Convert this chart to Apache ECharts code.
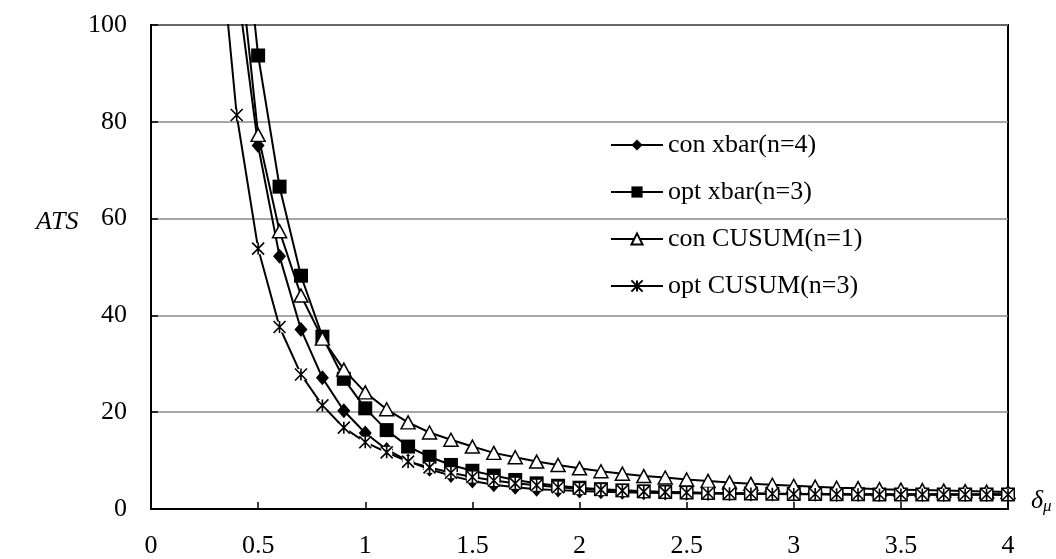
<!DOCTYPE html>
<html>
<head>
<meta charset="utf-8">
<script src="https://cdn.jsdelivr.net/npm/echarts@6/dist/echarts.min.js"></script>
<style>
  html, body { margin: 0; padding: 0; background: #fff; }
  #chart { width: 1056px; height: 559px; }
</style>
</head>
<body>
<div id="chart"></div>
<script>
// Mean shift (delta_mu) values along the horizontal axis
const delta = [0.3, 0.4, 0.5, 0.6, 0.7, 0.8, 0.9, 1.0, 1.1, 1.2, 1.3, 1.4, 1.5, 1.6, 1.7, 1.8, 1.9, 2.0,
               2.1, 2.2, 2.3, 2.4, 2.5, 2.6, 2.7, 2.8, 2.9, 3.0, 3.1, 3.2, 3.3, 3.4, 3.5, 3.6, 3.7, 3.8, 3.9, 4.0];

// ATS for each chart (null where the curve is above the plotted range)
const conXbar4 = [null, 109, 75.1, 52.2, 37.1, 27.1, 20.3, 15.7, 12.3, 9.9, 8.2, 6.9, 5.8, 5.0, 4.5, 4.1, 3.9, 3.7,
                  3.55, 3.45, 3.35, 3.3, 3.25, 3.2, 3.15, 3.1, 3.1, 3.05, 3.05, 3.0, 3.0, 3.0, 3.0, 3.0, 3.0, 3.0, 3.0, 3.0];
const optXbar3 = [null, 135.7, 93.7, 66.6, 48.2, 35.6, 26.9, 20.8, 16.3, 12.9, 10.8, 9.1, 7.9, 6.9, 6.0, 5.3, 4.8, 4.4,
                  4.1, 3.85, 3.65, 3.5, 3.4, 3.3, 3.25, 3.2, 3.15, 3.1, 3.1, 3.05, 3.05, 3.0, 3.0, 3.0, 3.0, 3.0, 3.0, 3.0];
const conCusum1 = [null, 119, 77.3, 57.4, 44.1, 35.2, 28.8, 24.1, 20.6, 17.9, 15.8, 14.3, 12.9, 11.6, 10.7, 9.8, 9.1, 8.4,
                   7.8, 7.3, 6.8, 6.5, 6.1, 5.8, 5.5, 5.2, 5.0, 4.8, 4.6, 4.4, 4.3, 4.1, 4.0, 3.9, 3.8, 3.7, 3.6, 3.5];
const optCusum3 = [128, 81.4, 53.8, 37.6, 27.8, 21.4, 16.8, 13.8, 11.7, 9.8, 8.6, 7.5, 6.6, 5.9, 5.3, 4.9, 4.5, 4.2,
                   4.0, 3.8, 3.6, 3.5, 3.4, 3.3, 3.25, 3.2, 3.15, 3.1, 3.1, 3.05, 3.05, 3.0, 3.0, 3.0, 3.0, 3.0, 3.0, 3.0];

const seriesNames = ['con xbar(n=4)', 'opt xbar(n=3)', 'con CUSUM(n=1)', 'opt CUSUM(n=3)'];
const xTicks = [0, 0.5, 1, 1.5, 2, 2.5, 3, 3.5, 4];
const yTicks = [0, 20, 40, 60, 80, 100];

const pairs = (ys) => delta.map((x, i) => [x, ys[i]]);
const FONT = '"Liberation Serif", "Times New Roman", serif';
const ASTERISK = 'path://M0,0L10,10M10,0L0,10M5,0L5,10';

const baseLine = (name, ys, extra) => Object.assign({
  name: name,
  type: 'line',
  data: pairs(ys),
  showAllSymbol: true,
  connectNulls: false,
  clip: true,
  lineStyle: { color: '#000', width: 2 },
  emphasis: { disabled: true },
  z: 3
}, extra);

const chart = echarts.init(document.getElementById('chart'), null, { renderer: 'canvas' });
chart.setOption({
  animation: false,
  backgroundColor: '#fff',
  textStyle: { fontFamily: FONT, color: '#000' },
  grid: {
    left: 151, right: 48, top: 25, bottom: 45,
    show: true, borderColor: '#000', borderWidth: 2, backgroundColor: 'transparent'
  },
  legend: {
    data: seriesNames,
    orient: 'vertical',
    left: 605, top: 126,
    itemWidth: 52, itemHeight: 14, itemGap: 19,
    lineStyle: { width: 2, color: '#000' },
    textStyle: { fontFamily: FONT, fontSize: 26, color: '#000', lineHeight: 28 },
    selectedMode: false
  },
  xAxis: {
    type: 'value',
    min: xTicks[0], max: xTicks[xTicks.length - 1], interval: 0.5,
    axisLine: { lineStyle: { color: '#000', width: 2 } },
    axisTick: { inside: true, length: 7, lineStyle: { color: '#000', width: 1.5 } },
    axisLabel: { fontFamily: FONT, fontSize: 26, color: '#000', margin: 24 },
    splitLine: { show: false }
  },
  yAxis: {
    type: 'value',
    min: yTicks[0], max: yTicks[yTicks.length - 1], interval: 20,
    axisLine: { show: true, lineStyle: { color: '#000', width: 2 } },
    axisTick: { show: true, inside: true, length: 7, lineStyle: { color: '#000', width: 1.5 } },
    axisLabel: { fontFamily: FONT, fontSize: 26, color: '#000', margin: 24 },
    splitLine: { lineStyle: { color: '#8a8a8a', width: 1.5 } }
  },
  graphic: [
    {
      type: 'text', left: 36, top: 209,
      style: { text: 'ATS', fontFamily: FONT, fontSize: 26, fontStyle: 'italic', fill: '#000' }
    },
    {
      type: 'text', left: 1031, top: 488,
      style: {
        text: '{d|δ}{m|μ}',
        rich: {
          d: { fontFamily: FONT, fontSize: 26, fontStyle: 'italic', fill: '#000' },
          m: { fontFamily: FONT, fontSize: 17, fontStyle: 'italic', fill: '#000', padding: [12, 0, 0, 0] }
        }
      }
    }
  ],
  series: [
    baseLine(seriesNames[0], conXbar4, {
      symbol: 'diamond', symbolSize: [13, 15],
      itemStyle: { color: '#000', borderColor: '#000', borderWidth: 0 }
    }),
    baseLine(seriesNames[1], optXbar3, {
      symbol: 'rect', symbolSize: 14,
      itemStyle: { color: '#000', borderColor: '#000', borderWidth: 0 }
    }),
    baseLine(seriesNames[2], conCusum1, {
      symbol: 'triangle', symbolSize: [14, 13],
      itemStyle: { color: '#fff', borderColor: '#000', borderWidth: 1.5 }
    }),
    // white square backing behind each asterisk marker
    {
      type: 'line',
      data: pairs(optCusum3),
      showAllSymbol: true,
      clip: true,
      symbol: 'rect', symbolSize: 11,
      lineStyle: { opacity: 0, width: 0 },
      itemStyle: { color: '#fff', borderWidth: 0 },
      emphasis: { disabled: true },
      silent: true,
      z: 3
    },
    baseLine(seriesNames[3], optCusum3, {
      symbol: ASTERISK, symbolSize: 12,
      itemStyle: { color: 'none', borderColor: '#000', borderWidth: 1.6 }
    })
  ]
});
</script>
</body>
</html>
